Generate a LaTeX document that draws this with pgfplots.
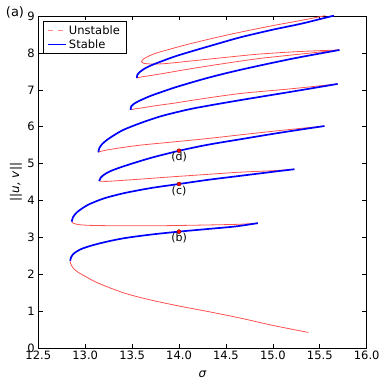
\documentclass[border=0pt]{standalone}
\usepackage{fontspec}
\setmainfont{DejaVu Sans}
\usepackage{pgfplots}
\pgfplotsset{compat=1.18}
\definecolor{unst}{RGB}{255,80,80}
\begin{document}
\begin{tikzpicture}
\path[use as bounding box] (0pt,0pt) rectangle (390pt,390pt);
\node[font=\fontsize{13}{15}\selectfont] at (15pt,378pt) {(a)};
\begin{axis}[
  at={(38.3pt,41.7pt)}, anchor=south west,
  scale only axis, width=328.4pt, height=332.3pt,
  xmin=12.5, xmax=16, ymin=0, ymax=9,
  xtick={12.5,13,...,16}, ytick={0,1,...,9},
  x tick label style={/pgf/number format/fixed, /pgf/number format/fixed zerofill,
    /pgf/number format/precision=1, yshift=1pt},
  /pgf/number format/assume math mode=true,
  tick label style={font=\fontsize{11.5}{13}\selectfont},
  axis line style={line width=0.8pt},
  major tick style={black, line width=0.6pt},
  xlabel={\itshape σ}, ylabel={||\itshape u, v\upshape||},
  label style={font=\fontsize{12}{14}\selectfont},
  xlabel style={at={(axis description cs:0.5,-0.077)}, anchor=center},
  ylabel style={at={(axis description cs:-0.068,0.5)}, anchor=center},
  legend style={at={(0.0143,0.985)}, anchor=north west, draw=black, line width=0.6pt,
    font=\fontsize{11.5}{13}\selectfont, inner xsep=4pt, inner ysep=2pt,
    nodes={inner sep=2pt}},
  legend cell align=left,
  legend image code/.code={\draw[#1] (0pt,0pt) -- (18pt,0pt);},
]
\addlegendimage{red!45, line width=0.9pt, dash pattern=on 5pt off 5pt}
\addlegendentry{Unstable}
\addlegendimage{blue, line width=1.7pt}
\addlegendentry{Stable}

% unstable branches
\pgfplotsset{every axis plot/.append style={forget plot}}
\addplot[unst, line width=0.8pt, smooth] coordinates {
(15.378,0.43) (15.0,0.62) (14.65,0.82) (14.3,1.00) (14.05,1.12) (13.8,1.25) (13.58,1.38)
(13.4,1.51) (13.23,1.67) (13.1,1.81) (13.0,1.95) (12.93,2.05) (12.88,2.15) (12.855,2.24)
(12.843,2.31) (12.84,2.37)};
\addplot[unst, line width=0.8pt, smooth] coordinates {
(14.84,3.39) (14.65,3.36) (14.3,3.34) (13.8,3.32) (13.3,3.32) (13.05,3.33) (12.93,3.35)
(12.87,3.39) (12.856,3.43)};
\addplot[unst, line width=0.8pt, smooth] coordinates {
(15.23,4.85) (15.0,4.81) (14.65,4.77) (14.3,4.71) (13.9,4.64) (13.58,4.58) (13.35,4.54)
(13.22,4.52) (13.15,4.53)};
\addplot[unst, line width=0.8pt, smooth] coordinates {
(15.55,6.02) (15.08,5.90) (14.65,5.78) (14.3,5.68) (13.9,5.58) (13.58,5.50) (13.35,5.42)
(13.23,5.37) (13.16,5.33) (13.14,5.31)};
\addplot[unst, line width=0.8pt, smooth] coordinates {
(15.69,7.16) (15.2,7.03) (14.65,6.90) (14.2,6.74) (13.95,6.64) (13.75,6.57) (13.6,6.51)
(13.52,6.48) (13.485,6.46)};
\addplot[unst, line width=0.8pt, smooth] coordinates {
(15.71,8.08) (15.3,8.04) (14.86,7.97) (14.5,7.88) (14.12,7.78) (13.85,7.71) (13.7,7.70)
(13.62,7.72) (13.60,7.76) (13.61,7.81) (13.65,7.88) (13.75,7.99) (13.9,8.10) (14.12,8.25)
(14.4,8.42) (14.65,8.56) (15.0,8.74) (15.3,8.88) (15.56,9.01)};
\addplot[unst, line width=0.8pt, smooth] coordinates {
(13.55,7.32) (13.6,7.35) (13.8,7.43) (14.12,7.57) (14.5,7.72) (14.86,7.85) (15.3,7.97)
(15.71,8.08)};

% stable branches
\addplot[blue, line width=1.7pt, smooth] coordinates {
(12.84,2.37) (12.85,2.47) (12.88,2.57) (12.95,2.68) (13.05,2.77) (13.2,2.87) (13.41,2.98)
(13.7,3.08) (14.0,3.16) (14.3,3.23) (14.6,3.30) (14.84,3.39)};
\addplot[blue, line width=1.7pt, smooth] coordinates {
(12.856,3.43) (12.87,3.55) (12.91,3.68) (12.98,3.81) (13.05,3.91) (13.2,4.06) (13.41,4.20)
(13.7,4.34) (14.0,4.45) (14.3,4.56) (14.65,4.67) (15.0,4.78) (15.23,4.85)};
\addplot[blue, line width=1.7pt, smooth] coordinates {
(13.15,4.53) (13.165,4.62) (13.2,4.70) (13.27,4.80) (13.41,4.93) (13.69,5.15) (14.0,5.35)
(14.3,5.51) (14.65,5.66) (15.08,5.84) (15.55,6.02)};
\addplot[blue, line width=1.7pt, smooth] coordinates {
(13.14,5.31) (13.15,5.42) (13.18,5.53) (13.23,5.64) (13.3,5.76) (13.41,5.92) (13.6,6.11)
(13.8,6.28) (14.0,6.41) (14.2,6.52) (14.65,6.72) (15.2,6.95) (15.69,7.16)};
\addplot[blue, line width=1.7pt, smooth] coordinates {
(13.485,6.46) (13.49,6.55) (13.53,6.64) (13.6,6.73) (13.7,6.84) (13.8,6.93) (13.975,7.08)
(14.3,7.32) (14.65,7.54) (15.2,7.84) (15.71,8.08)};
\addplot[blue, line width=1.7pt, smooth] coordinates {
(13.55,7.32) (13.555,7.40) (13.58,7.48) (13.63,7.57) (13.7,7.66) (13.78,7.74) (13.95,7.90)
(14.17,8.07) (14.4,8.24) (14.65,8.42) (15.0,8.63) (15.3,8.79) (15.65,9.01)};

% marked solutions
\addplot[only marks, mark=*, mark size=2pt, mark options={fill=red, draw=red!55!black, line width=0.4pt},
  point meta=explicit symbolic, nodes near coords,
  nodes near coords style={anchor=north, inner sep=0pt, yshift=-1.5pt, font=\fontsize{11}{13}\selectfont, text=black}]
  table[meta=lab] {
x y lab
14 3.16 (b)
14 4.45 (c)
14 5.35 (d)
};
\end{axis}
\end{tikzpicture}
\end{document}
